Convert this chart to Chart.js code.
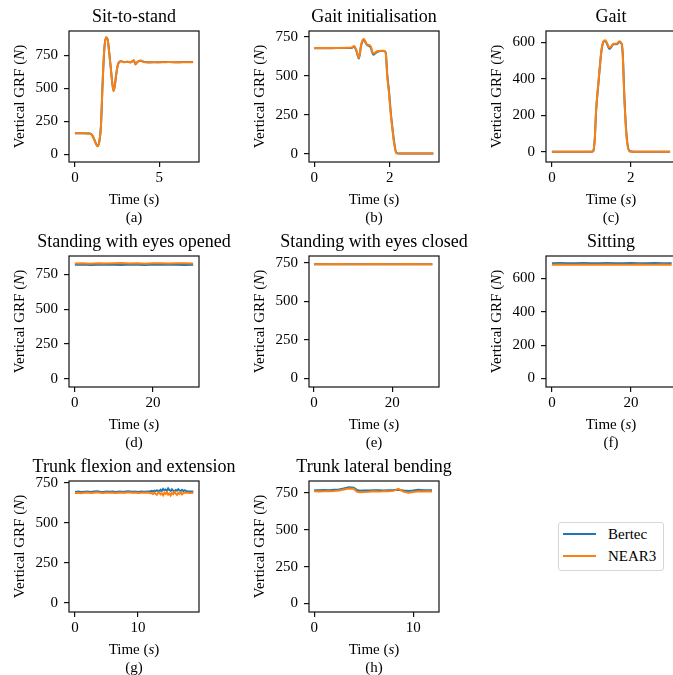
<!DOCTYPE html>
<html>
<head>
<meta charset="utf-8">
<script src="https://cdn.jsdelivr.net/npm/chart.js@4.4.1/dist/chart.umd.min.js"></script>
<style>
  html, body { margin: 0; padding: 0; background: #fff; overflow: hidden; width: 673px; height: 675px; }
  canvas { position: absolute; }
  #legend { position: absolute; left: 558px; top: 522px; width: 104px; height: 47px; border: 1px solid #d6d6d6; border-radius: 3px; background: #fff; font: 15px "Liberation Serif", serif; color: #000; }
  #legend .row { position: absolute; left: 0; height: 20px; line-height: 20px; }
  #legend .sw { position: absolute; left: 4px; top: 9px; width: 33px; height: 2px; }
  #legend .lbl { position: absolute; left: 49px; top: 0; white-space: nowrap; }
</style>
</head>
<body>
<!-- canvases are 30px wider on each side than their grid cell so long titles are not clipped -->
<canvas id="c-a" width="290" height="225" style="left:-30px;top:0px"></canvas>
<canvas id="c-b" width="290" height="225" style="left:200px;top:0px"></canvas>
<canvas id="c-c" width="290" height="225" style="left:430px;top:0px"></canvas>
<canvas id="c-d" width="290" height="225" style="left:-30px;top:225px"></canvas>
<canvas id="c-e" width="290" height="225" style="left:200px;top:225px"></canvas>
<canvas id="c-f" width="290" height="225" style="left:430px;top:225px"></canvas>
<canvas id="c-g" width="290" height="225" style="left:-30px;top:450px"></canvas>
<canvas id="c-h" width="290" height="225" style="left:200px;top:450px"></canvas>
<div id="legend"></div>
<script>
const seriesNames = ['Bertec', 'NEAR3'];
const seriesColors = ['#1f77b4', '#ff7f0e'];

// (a) sit-to-stand
const timeA   = [0, 0.5, 0.9, 1.05, 1.2, 1.34, 1.45, 1.54, 1.64, 1.74, 1.84, 1.94, 2.03, 2.12, 2.19, 2.29, 2.36, 2.43, 2.51, 2.59, 2.73, 2.9, 3.1, 3.3, 3.5, 3.58, 3.7, 3.9, 4.1, 4.4, 4.7, 5.0, 5.4, 5.8, 6.2, 6.6, 7.0];
const bertecA = [161, 161, 159, 141, 97, 63, 102, 210, 535, 795, 886, 872, 775, 664, 570, 482, 518, 590, 658, 694, 706, 701, 702, 699, 712, 684, 701, 710, 701, 699, 700, 700, 701, 700, 700, 701, 701];
const near3A  = [160, 160, 158, 140, 95, 62, 100, 214, 543, 800, 889, 870, 770, 660, 568, 480, 520, 593, 660, 695, 707, 700, 703, 698, 715, 682, 700, 712, 700, 698, 701, 699, 700, 701, 699, 700, 700];

// (b) gait initialisation
const timeB   = [0, 0.5, 0.9, 1.0, 1.05, 1.12, 1.18, 1.24, 1.31, 1.36, 1.40, 1.49, 1.56, 1.62, 1.66, 1.75, 1.84, 1.89, 1.93, 1.98, 2.02, 2.07, 2.11, 2.17, 2.25, 2.6, 3.15];
const bertecB = [676, 677, 678, 680, 686, 655, 610, 695, 730, 710, 697, 682, 635, 645, 652, 658, 658, 650, 510, 395, 275, 160, 80, 5, 0, 0, 0];
const near3B  = [678, 678, 679, 682, 690, 660, 615, 700, 737, 715, 700, 690, 643, 650, 657, 661, 660, 645, 497, 380, 262, 150, 69, 2, 0, 0, 0];

// (c) gait
const timeC   = [0, 0.5, 1.0, 1.05, 1.09, 1.12, 1.18, 1.26, 1.31, 1.35, 1.40, 1.46, 1.51, 1.56, 1.64, 1.71, 1.77, 1.80, 1.84, 1.90, 1.97, 2.1, 2.5, 3.0];
const bertecC = [0, 0, 0, 4, 75, 215, 372, 555, 602, 608, 590, 562, 574, 588, 588, 600, 592, 530, 300, 80, 4, 0, 0, 0];
const near3C  = [0, 0, 0, 5, 80, 222, 378, 560, 605, 611, 595, 569, 578, 591, 591, 605, 590, 520, 286, 67, 2, 0, 0, 0];

// (d)-(f) standing / sitting, 30 s
const timeStill = [0, 2, 4, 6, 8, 10, 12, 14, 16, 18, 20, 22, 24, 26, 28, 30.3];
const bertecD = [820, 821, 819, 820, 822, 820, 819, 821, 820, 819, 821, 820, 822, 820, 819, 820];
const near3D  = [829, 830, 828, 831, 829, 830, 832, 829, 830, 828, 831, 830, 829, 831, 830, 829];
const bertecE = [740, 740, 741, 741, 740, 740, 741, 740, 741, 740, 740, 741, 741, 740, 740, 741];
const near3E  = [741, 740, 741, 742, 740, 741, 741, 740, 742, 741, 740, 741, 742, 740, 741, 741];
const bertecF = [692, 693, 691, 692, 693, 692, 691, 693, 692, 692, 693, 691, 692, 693, 692, 692];
const near3F  = [683, 684, 682, 683, 684, 683, 682, 684, 683, 683, 682, 684, 683, 682, 684, 683];

// (g) trunk flexion and extension
const timeG   = [0, 0.5, 1, 1.5, 2, 2.5, 3, 3.5, 4, 4.5, 5, 5.5, 6, 6.5, 7, 7.5, 8, 8.5, 9, 9.5, 10, 10.5, 11, 11.5,
                 12, 12.2, 12.4, 12.6, 12.8, 13, 13.2, 13.4, 13.6, 13.8, 14, 14.2, 14.4, 14.6, 14.8, 15, 15.2, 15.4, 15.6, 15.8, 16, 16.2, 16.4, 16.6, 16.8, 17, 17.2, 17.4,
                 17.8, 18.3, 18.8];
const bertecG = [693, 695, 692, 694, 696, 693, 695, 697, 694, 693, 696, 694, 695, 693, 696, 694, 695, 697, 694, 696, 693, 695, 694, 696,
                 697, 699, 695, 701, 698, 703, 700, 696, 706, 699, 712, 703, 708, 698, 715, 704, 699, 709, 701, 697, 705, 700, 710, 702, 698, 706, 699, 703,
                 697, 695, 696];
const near3G  = [686, 688, 685, 687, 689, 686, 688, 690, 687, 686, 689, 687, 688, 686, 689, 687, 688, 690, 687, 689, 686, 688, 687, 689,
                 684, 686, 679, 688, 681, 675, 686, 690, 678, 684, 672, 688, 680, 692, 676, 683, 671, 687, 679, 693, 682, 674, 686, 680, 690, 677, 685, 688,
                 688, 686, 687];

// (h) trunk lateral bending
const timeH   = [0, 0.5, 1, 1.5, 2, 2.5, 3, 3.5, 4, 4.3, 4.6, 5, 5.5, 6, 6.5, 7, 7.5, 8, 8.5, 9, 9.5, 10, 10.5, 11, 11.5, 11.9];
const bertecH = [768, 767, 769, 768, 770, 772, 780, 787, 784, 770, 764, 765, 766, 768, 767, 766, 768, 769, 771, 766, 762, 765, 770, 768, 767, 768];
const near3H  = [760, 759, 761, 760, 762, 765, 773, 779, 777, 758, 753, 756, 757, 760, 758, 761, 760, 763, 777, 758, 750, 755, 760, 759, 760, 759];

const yTicks750 = [0, 250, 500, 750];
const yTicks600 = [0, 200, 400, 600];

const panels = [
  { id: 'c-a', title: 'Sit-to-stand', tag: '(a)', t: timeA, b: bertecA, n: near3A, xr: [-0.35, 7.35], yr: [-57, 936], xt: [0, 5], yt: yTicks750, left: 69, smooth: true },
  { id: 'c-b', title: 'Gait initialisation', tag: '(b)', t: timeB, b: bertecB, n: near3B, xr: [-0.14, 3.3], yr: [-54, 787], xt: [0, 2], yt: yTicks750, left: 79, smooth: true },
  { id: 'c-c', title: 'Gait', tag: '(c)', t: timeC, b: bertecC, n: near3C, xr: [-0.15, 3.15], yr: [-56, 661], xt: [0, 2], yt: yTicks600, left: 86, smooth: true },
  { id: 'c-d', title: 'Standing with eyes opened', tag: '(d)', t: timeStill, b: bertecD, n: near3D, xr: [-1.5, 31.8], yr: [-59, 883], xt: [0, 20], yt: yTicks750, left: 69 },
  { id: 'c-e', title: 'Standing with eyes closed', tag: '(e)', t: timeStill, b: bertecE, n: near3E, xr: [-1.3, 32], yr: [-55, 794], xt: [0, 20], yt: yTicks750, left: 79 },
  { id: 'c-f', title: 'Sitting', tag: '(f)', t: timeStill, b: bertecF, n: near3F, xr: [-1.5, 31.4], yr: [-51, 735], xt: [0, 20], yt: yTicks600, left: 86 },
  { id: 'c-g', title: 'Trunk flexion and extension', tag: '(g)', t: timeG, b: bertecG, n: near3G, xr: [-0.95, 19.7], yr: [-57, 761], xt: [0, 10], yt: yTicks750, left: 69 },
  { id: 'c-h', title: 'Trunk lateral bending', tag: '(h)', t: timeH, b: bertecH, n: near3H, xr: [-0.52, 12.6], yr: [-58, 830], xt: [0, 10], yt: yTicks750, left: 79 }
];

const FONT = '"Liberation Serif", "Times New Roman", serif';

// draws pieces of text, every second piece in italic, centred on x
function drawMixed(ctx, parts, x, y) {
  const fonts = parts.map((p, i) => (i % 2 ? 'italic ' : '') + '15px ' + FONT);
  const widths = parts.map((p, i) => { ctx.font = fonts[i]; return ctx.measureText(p).width; });
  let pos = x - widths.reduce((s, w) => s + w, 0) / 2;
  ctx.textAlign = 'left';
  parts.forEach((p, i) => { ctx.font = fonts[i]; ctx.fillText(p, pos, y); pos += widths[i]; });
}

// axes frame, panel title and axis titles (matplotlib style)
const framePlugin = {
  id: 'frame',
  afterDraw(chart, args, opts) {
    const { ctx, chartArea: a } = chart;
    ctx.save();
    ctx.strokeStyle = '#111';
    ctx.lineWidth = 1.2;
    ctx.strokeRect(a.left, a.top, a.right - a.left, a.bottom - a.top);
    ctx.fillStyle = '#000';
    ctx.textBaseline = 'middle';
    const cx = (a.left + a.right) / 2;
    ctx.font = '18px ' + FONT;
    ctx.textAlign = 'center';
    ctx.fillText(opts.title, cx, a.top - 14);
    drawMixed(ctx, ['Time (', 's', ')'], cx, a.bottom + 38);
    ctx.font = '15px ' + FONT;
    ctx.textAlign = 'center';
    ctx.fillText(opts.tag, cx, a.bottom + 56);
    ctx.translate(a.left - 49, (a.top + a.bottom) / 2);
    ctx.rotate(-Math.PI / 2);
    drawMixed(ctx, ['Vertical GRF (', 'N', ')'], 0, 0);
    ctx.restore();
  }
};

const MARGIN = 30, AREA_W = 130, AREA_TOP = 31, AREA_BOTTOM = 162, X_AXIS_H = 25;

panels.forEach(p => {
  const canvas = document.getElementById(p.id);
  const series = [p.b, p.n];
  const yAxisW = p.left + MARGIN;
  new Chart(canvas.getContext('2d'), {
    type: 'line',
    data: {
      datasets: series.map((vals, k) => ({
        label: seriesNames[k],
        data: p.t.map((x, i) => ({ x: x, y: vals[i] })),
        borderColor: seriesColors[k],
        borderWidth: 2,
        pointRadius: 0,
        fill: false,
        tension: 0,
        order: series.length - k, // NEAR3 painted over Bertec
        cubicInterpolationMode: p.smooth ? 'monotone' : 'default'
      }))
    },
    options: {
      responsive: false,
      animation: false,
      devicePixelRatio: 1,
      layout: {
        autoPadding: false,
        padding: { left: 0, top: AREA_TOP, right: canvas.width - yAxisW - AREA_W, bottom: canvas.height - AREA_BOTTOM - X_AXIS_H }
      },
      plugins: {
        legend: { display: false },
        tooltip: { enabled: false },
        title: { display: false },
        frame: { tag: p.tag, title: p.title }
      },
      scales: {
        x: {
          type: 'linear',
          min: p.xr[0],
          max: p.xr[1],
          border: { display: false },
          grid: { display: true, drawOnChartArea: false, drawTicks: true, tickLength: 5, color: '#111', lineWidth: 1.2 },
          ticks: { color: '#000', padding: 2, maxRotation: 0, font: { family: FONT, size: 15 } },
          afterBuildTicks: s => { s.ticks = p.xt.map(v => ({ value: v })); },
          afterFit: s => { s.height = X_AXIS_H; s.paddingLeft = 0; s.paddingRight = 0; }
        },
        y: {
          type: 'linear',
          min: p.yr[0],
          max: p.yr[1],
          border: { display: false },
          grid: { display: true, drawOnChartArea: false, drawTicks: true, tickLength: 5, color: '#111', lineWidth: 1.2 },
          ticks: { color: '#000', padding: 6, font: { family: FONT, size: 15 } },
          afterBuildTicks: s => { s.ticks = p.yt.map(v => ({ value: v })); },
          afterFit: s => { s.width = yAxisW; s.paddingTop = 0; s.paddingBottom = 0; }
        }
      }
    },
    plugins: [framePlugin]
  });
});

// figure legend
const legend = document.getElementById('legend');
seriesNames.forEach((name, k) => {
  const row = document.createElement('div');
  row.className = 'row';
  row.style.top = (1 + k * 22) + 'px';
  row.style.width = '100%';
  row.innerHTML = '<span class="sw" style="background:' + seriesColors[k] + '"></span><span class="lbl">' + name + '</span>';
  legend.appendChild(row);
});
</script>
</body>
</html>
